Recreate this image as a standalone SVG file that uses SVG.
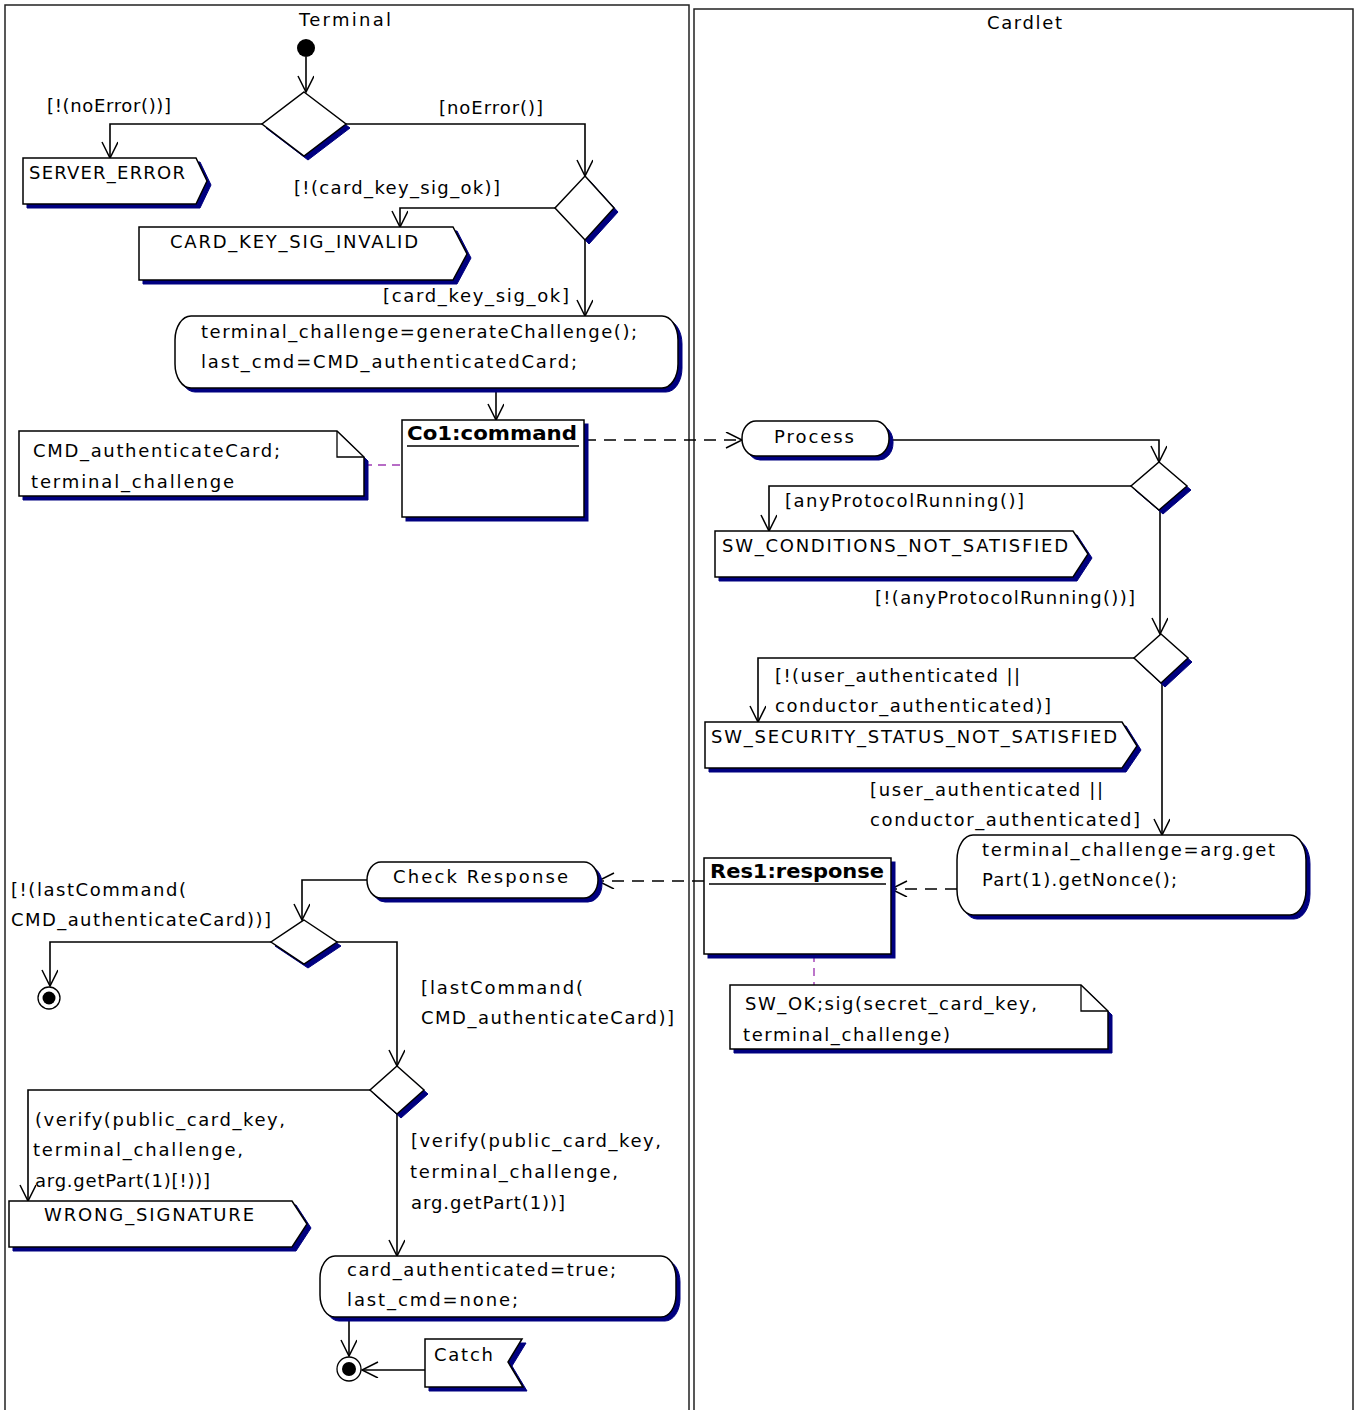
<svg xmlns="http://www.w3.org/2000/svg" xmlns:xlink="http://www.w3.org/1999/xlink" width="1357" height="1410" viewBox="0 0 1357 1410">
<style>
  .lane{fill:none;stroke:#222;stroke-width:1.5}
  .t{font-family:"DejaVu Sans","Liberation Sans",sans-serif;font-size:18px;fill:#000}
  .tb{font-family:"DejaVu Sans","Liberation Sans",sans-serif;font-size:19px;font-weight:bold;fill:#000}
  .sh{fill:#000080;stroke:#000080;stroke-width:1}
  .nd{fill:#fff;stroke:#000;stroke-width:1.5}
  .fold{fill:none;stroke:#000;stroke-width:1.3}
  .edge{fill:none;stroke:#000;stroke-width:1.6}
  .dash{stroke-dasharray:12 8}
  .anchor{fill:none;stroke:#a03cb4;stroke-width:1.4;stroke-dasharray:8 6}
  .ul{stroke:#000;stroke-width:1.5}
</style>
<defs>
  <marker id="open" markerUnits="userSpaceOnUse" markerWidth="20" markerHeight="18" viewBox="0 0 18 18" refX="17" refY="8" orient="auto">
    <path d="M1,0 L17,8 L1,16" fill="none" stroke="#000" stroke-width="1.5"/>
  </marker>
  <!-- action states -->
  <rect id="s-act1" x="175" y="316" width="503" height="72" rx="16" ry="24"/>
  <rect id="s-proc" x="742" y="421" width="147" height="35" rx="14" ry="17"/>
  <rect id="s-act2" x="957" y="835" width="349" height="80" rx="16" ry="25"/>
  <rect id="s-chk" x="367" y="862" width="231" height="36" rx="14" ry="18"/>
  <rect id="s-act3" x="320" y="1256" width="356" height="61" rx="15" ry="22"/>
  <!-- object flows -->
  <rect id="s-co1" x="402" y="420" width="182" height="97"/>
  <rect id="s-res1" x="704" y="858" width="187" height="96"/>
  <!-- comments -->
  <path id="s-n1" d="M19,431 H337 L364,457 V496 H19 Z"/>
  <path id="s-n2" d="M730,985 H1081 L1108,1011 V1049 H730 Z"/>
  <!-- signal sends -->
  <path id="s-se1" d="M23,158 H196 L207,181 L196,204 H23 Z"/>
  <path id="s-se2" d="M139,227 H453 L467,254 L453,280 H139 Z"/>
  <path id="s-se3" d="M715,531 H1073 L1088,554 L1073,577 H715 Z"/>
  <path id="s-se4" d="M705,722 H1122 L1137,746 L1122,768 H705 Z"/>
  <path id="s-se5" d="M9,1201 H292 L307,1224 L292,1247 H9 Z"/>
  <!-- signal receipt -->
  <path id="s-catch" d="M425,1339 H522 L508,1362 L523,1387 H425 Z"/>
  <!-- decisions -->
  <path id="s-d1" d="M304,92 L346,124 L304,156 L262,124 Z"/>
  <path id="s-d2" d="M585,176 L614,208 L585,240 L555,208 Z"/>
  <path id="s-d3" d="M1159,462 L1187,486 L1159,510 L1131,486 Z"/>
  <path id="s-d4" d="M1161,634 L1188,658 L1161,683 L1134,658 Z"/>
  <path id="s-d5" d="M304,920 L337,942 L304,964 L271,942 Z"/>
  <path id="s-d6" d="M397,1066 L424,1090 L397,1114 L370,1090 Z"/>
</defs>

<!-- swimlanes -->
<g id="lanes">
  <path class="lane" d="M5,1415 V5 H689 V1415"/>
  <path class="lane" d="M694,1415 V9 H1353 V1415"/>
  <text class="t" x="299" y="26" textLength="92">Terminal</text>
  <text class="t" x="987" y="29" textLength="75">Cardlet</text>
</g>

<!-- connectors and guards -->
<g id="connectors">
  <path class="edge" d="M306,57 V92" marker-end="url(#open)"/>
  <path class="edge" d="M262,124 H110 V158" marker-end="url(#open)"/>
  <path class="edge" d="M346,124 H585 V176" marker-end="url(#open)"/>
  <path class="edge" d="M555,208 H400 V227" marker-end="url(#open)"/>
  <path class="edge" d="M585,240 V316" marker-end="url(#open)"/>
  <path class="edge" d="M496,388 V420" marker-end="url(#open)"/>
  <path class="edge dash" d="M584,440 H742" marker-end="url(#open)"/>
  <path class="anchor" d="M364,465 H402"/>
  <path class="edge" d="M889,440 H1159 V462" marker-end="url(#open)"/>
  <path class="edge" d="M1131,486 H769 V531" marker-end="url(#open)"/>
  <path class="edge" d="M1160,510 V634" marker-end="url(#open)"/>
  <path class="edge" d="M1134,658 H758 V722" marker-end="url(#open)"/>
  <path class="edge" d="M1162,683 V835" marker-end="url(#open)"/>
  <path class="edge dash" d="M957,889 H891" marker-end="url(#open)"/>
  <path class="anchor" d="M814,954 V985"/>
  <path class="edge dash" d="M704,881 H598" marker-end="url(#open)"/>
  <path class="edge" d="M367,880 H302 V920" marker-end="url(#open)"/>
  <path class="edge" d="M271,942 H50 V986" marker-end="url(#open)"/>
  <path class="edge" d="M337,942 H397 V1066" marker-end="url(#open)"/>
  <path class="edge" d="M370,1090 H28 V1201" marker-end="url(#open)"/>
  <path class="edge" d="M397,1114 V1256" marker-end="url(#open)"/>
  <path class="edge" d="M349,1317 V1356" marker-end="url(#open)"/>
  <path class="edge" d="M425,1370 H362" marker-end="url(#open)"/>

  <text class="t" x="47" y="112" textLength="124">[!(noError())]</text>
  <text class="t" x="439" y="114" textLength="104">[noError()]</text>
  <text class="t" x="294" y="194" textLength="206">[!(card_key_sig_ok)]</text>
  <text class="t" x="383" y="302" textLength="186">[card_key_sig_ok]</text>
  <text class="t" x="785" y="507" textLength="239">[anyProtocolRunning()]</text>
  <text class="t" x="875" y="604" textLength="260">[!(anyProtocolRunning())]</text>
  <text class="t" x="775" y="682" textLength="245">[!(user_authenticated ||</text>
  <text class="t" x="775" y="712" textLength="276">conductor_authenticated)]</text>
  <text class="t" x="870" y="796" textLength="233">[user_authenticated ||</text>
  <text class="t" x="870" y="826" textLength="270">conductor_authenticated]</text>
  <text class="t" x="11" y="896" textLength="175">[!(lastCommand(</text>
  <text class="t" x="11" y="926" textLength="260">CMD_authenticateCard))]</text>
  <text class="t" x="421" y="994" textLength="162">[lastCommand(</text>
  <text class="t" x="421" y="1024" textLength="253">CMD_authenticateCard)]</text>
  <text class="t" x="35" y="1126" textLength="250">(verify(public_card_key,</text>
  <text class="t" x="33" y="1156" textLength="210">terminal_challenge,</text>
  <text class="t" x="35" y="1187" textLength="175">arg.getPart(1)[!))]</text>
  <text class="t" x="411" y="1147" textLength="250">[verify(public_card_key,</text>
  <text class="t" x="410" y="1178" textLength="208">terminal_challenge,</text>
  <text class="t" x="411" y="1209" textLength="154">arg.getPart(1))]</text>
</g>

<!-- pseudo states -->
<g id="initial"><circle cx="306" cy="48" r="9" fill="#000"/></g>
<g id="final1">
  <circle cx="49" cy="998" r="11" fill="#fff" stroke="#000" stroke-width="1.3"/>
  <circle cx="49" cy="998" r="6.5" fill="#000"/>
</g>
<g id="final2">
  <circle cx="349" cy="1369" r="12" fill="#fff" stroke="#000" stroke-width="1.3"/>
  <circle cx="349" cy="1369" r="7" fill="#000"/>
</g>

<!-- decisions -->
<g id="decision1"><use xlink:href="#s-d1" class="sh" x="4" y="4"/><use xlink:href="#s-d1" class="nd"/></g>
<g id="decision2"><use xlink:href="#s-d2" class="sh" x="4" y="4"/><use xlink:href="#s-d2" class="nd"/></g>
<g id="decision3"><use xlink:href="#s-d3" class="sh" x="4" y="4"/><use xlink:href="#s-d3" class="nd"/></g>
<g id="decision4"><use xlink:href="#s-d4" class="sh" x="4" y="4"/><use xlink:href="#s-d4" class="nd"/></g>
<g id="decision5"><use xlink:href="#s-d5" class="sh" x="4" y="4"/><use xlink:href="#s-d5" class="nd"/></g>
<g id="decision6"><use xlink:href="#s-d6" class="sh" x="4" y="4"/><use xlink:href="#s-d6" class="nd"/></g>

<!-- signal sends -->
<g id="server-error">
  <use xlink:href="#s-se1" class="sh" x="4" y="4"/><use xlink:href="#s-se1" class="nd"/>
  <text class="t" x="29" y="179" textLength="156">SERVER_ERROR</text>
</g>
<g id="card-key-sig-invalid">
  <use xlink:href="#s-se2" class="sh" x="4" y="4"/><use xlink:href="#s-se2" class="nd"/>
  <text class="t" x="170" y="248" textLength="248">CARD_KEY_SIG_INVALID</text>
</g>
<g id="sw-conditions">
  <use xlink:href="#s-se3" class="sh" x="4" y="4"/><use xlink:href="#s-se3" class="nd"/>
  <text class="t" x="722" y="552" textLength="346">SW_CONDITIONS_NOT_SATISFIED</text>
</g>
<g id="sw-security">
  <use xlink:href="#s-se4" class="sh" x="4" y="4"/><use xlink:href="#s-se4" class="nd"/>
  <text class="t" x="711" y="743" textLength="406">SW_SECURITY_STATUS_NOT_SATISFIED</text>
</g>
<g id="wrong-signature">
  <use xlink:href="#s-se5" class="sh" x="4" y="4"/><use xlink:href="#s-se5" class="nd"/>
  <text class="t" x="44" y="1221" textLength="210">WRONG_SIGNATURE</text>
</g>
<g id="catch">
  <use xlink:href="#s-catch" class="sh" x="4" y="4"/><use xlink:href="#s-catch" class="nd"/>
  <text class="t" x="434" y="1361" textLength="59">Catch</text>
</g>

<!-- action states -->
<g id="gen-challenge">
  <use xlink:href="#s-act1" class="sh" x="4" y="4"/><use xlink:href="#s-act1" class="nd"/>
  <text class="t" x="201" y="338" textLength="436">terminal_challenge=generateChallenge();</text>
  <text class="t" x="201" y="368" textLength="376">last_cmd=CMD_authenticatedCard;</text>
</g>
<g id="process">
  <use xlink:href="#s-proc" class="sh" x="4" y="4"/><use xlink:href="#s-proc" class="nd"/>
  <text class="t" x="774" y="443" textLength="80">Process</text>
</g>
<g id="get-nonce">
  <use xlink:href="#s-act2" class="sh" x="4" y="4"/><use xlink:href="#s-act2" class="nd"/>
  <text class="t" x="982" y="856" textLength="293">terminal_challenge=arg.get</text>
  <text class="t" x="982" y="886" textLength="195">Part(1).getNonce();</text>
</g>
<g id="check-response">
  <use xlink:href="#s-chk" class="sh" x="4" y="4"/><use xlink:href="#s-chk" class="nd"/>
  <text class="t" x="393" y="883" textLength="175">Check Response</text>
</g>
<g id="card-authenticated">
  <use xlink:href="#s-act3" class="sh" x="4" y="4"/><use xlink:href="#s-act3" class="nd"/>
  <text class="t" x="347" y="1276" textLength="269">card_authenticated=true;</text>
  <text class="t" x="347" y="1306" textLength="171">last_cmd=none;</text>
</g>

<!-- objects -->
<g id="co1-command">
  <use xlink:href="#s-co1" class="sh" x="4" y="4"/><use xlink:href="#s-co1" class="nd"/>
  <text class="tb" x="407" y="440" textLength="170" lengthAdjust="spacingAndGlyphs">Co1:command</text>
  <line class="ul" x1="407" y1="446" x2="579" y2="446"/>
</g>
<g id="res1-response">
  <use xlink:href="#s-res1" class="sh" x="4" y="4"/><use xlink:href="#s-res1" class="nd"/>
  <text class="tb" x="710" y="878" textLength="174" lengthAdjust="spacingAndGlyphs">Res1:response</text>
  <line class="ul" x1="709" y1="884" x2="886" y2="884"/>
</g>

<!-- comments -->
<g id="note-command">
  <use xlink:href="#s-n1" class="sh" x="4" y="4"/><use xlink:href="#s-n1" class="nd"/>
  <path class="fold" d="M337,431 V457 H364"/>
  <text class="t" x="33" y="457" textLength="247">CMD_authenticateCard;</text>
  <text class="t" x="31" y="488" textLength="203">terminal_challenge</text>
</g>
<g id="note-response">
  <use xlink:href="#s-n2" class="sh" x="4" y="4"/><use xlink:href="#s-n2" class="nd"/>
  <path class="fold" d="M1081,985 V1011 H1108"/>
  <text class="t" x="745" y="1010" textLength="292">SW_OK;sig(secret_card_key,</text>
  <text class="t" x="743" y="1041" textLength="207">terminal_challenge)</text>
</g>
</svg>
